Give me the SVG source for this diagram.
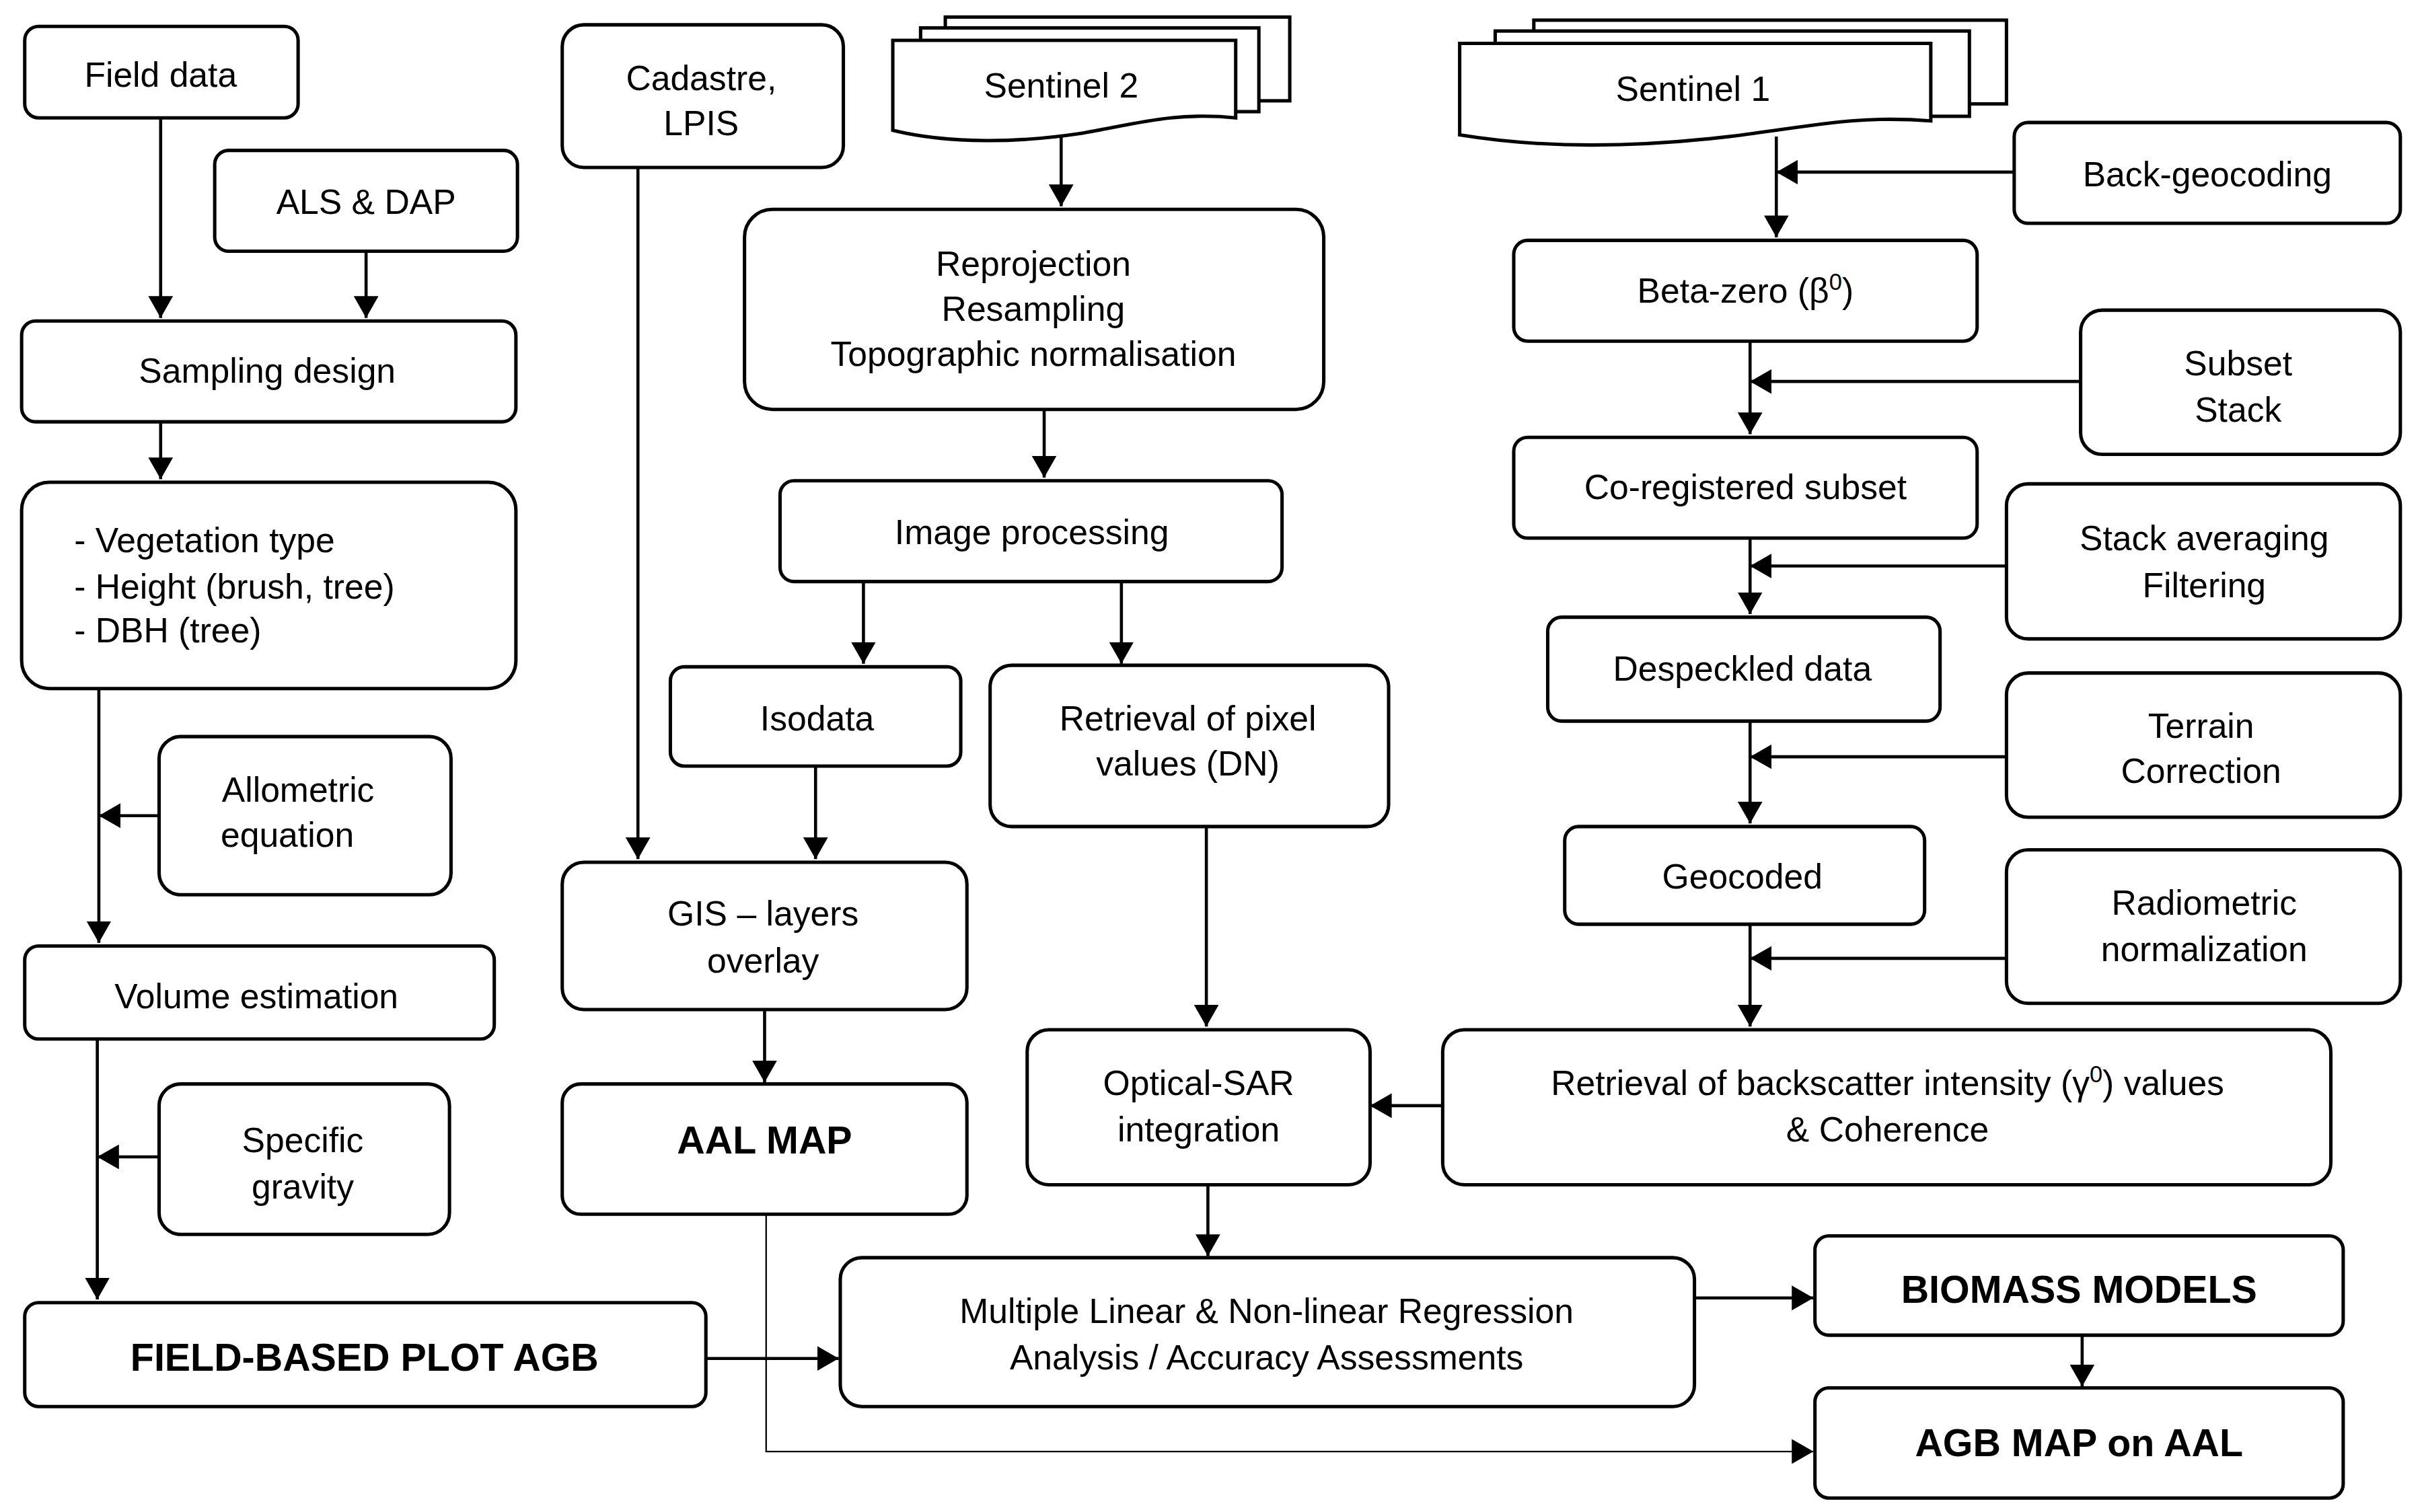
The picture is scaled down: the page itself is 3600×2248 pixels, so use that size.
<svg xmlns="http://www.w3.org/2000/svg" width="3600" height="2248" viewBox="0 0 3600 2248">
<style>
.n{fill:#fff;stroke:#000;stroke-width:2.2}
.t{font-family:"Liberation Sans",Arial,sans-serif;font-size:22.5px;text-anchor:middle;fill:#000}
.b{font-weight:bold;font-size:25px}
.l{text-anchor:start}
.c{fill:none;stroke:#000;stroke-width:2}
.th{fill:none;stroke:#000;stroke-width:1}
</style>
<defs>
<marker id="a" viewBox="0 0 14 16" refX="14" refY="8" markerWidth="14" markerHeight="16" markerUnits="userSpaceOnUse" orient="auto"><path d="M0,0 L14,8 L0,16 z" fill="#000"/></marker>
</defs>
<rect width="3600" height="2248" fill="#fff"/>
<g transform="scale(2.2959,2.3056)">
<g id="connectors">
<path class="c" marker-end="url(#a)" d="M104,76 V205"/>
<path class="c" marker-end="url(#a)" d="M237,162 V205"/>
<path class="c" marker-end="url(#a)" d="M104,272 V309"/>
<path class="c" marker-end="url(#a)" d="M64,444 V608"/>
<path class="c" marker-end="url(#a)" d="M103,526 H64"/>
<path class="c" marker-end="url(#a)" d="M63,670 V838"/>
<path class="c" marker-end="url(#a)" d="M103,746 H63"/>
<path class="c" marker-end="url(#a)" d="M457,876 H543"/>
<path class="c" marker-end="url(#a)" d="M413,108 V554"/>
<path class="c" marker-end="url(#a)" d="M687,88 V133"/>
<path class="c" marker-end="url(#a)" d="M676,264 V308"/>
<path class="c" marker-end="url(#a)" d="M559,375 V428"/>
<path class="c" marker-end="url(#a)" d="M726,375 V428"/>
<path class="c" marker-end="url(#a)" d="M528,494 V554"/>
<path class="c" marker-end="url(#a)" d="M495,651 V698"/>
<path class="c" marker-end="url(#a)" d="M781,533 V662"/>
<path class="c" marker-end="url(#a)" d="M934,713 H887"/>
<path class="c" marker-end="url(#a)" d="M782,764 V810"/>
<path class="c" marker-end="url(#a)" d="M1097,837 H1174"/>
<path class="c" marker-end="url(#a)" d="M1348,861 V894"/>
<path class="th" marker-end="url(#a)" d="M496,783 V936 H1174"/>
<path class="c" marker-end="url(#a)" d="M1150,88 V153"/>
<path class="c" marker-end="url(#a)" d="M1304,111 H1150"/>
<path class="c" marker-end="url(#a)" d="M1133,220 V280"/>
<path class="c" marker-end="url(#a)" d="M1347,246 H1133"/>
<path class="c" marker-end="url(#a)" d="M1133,347 V396"/>
<path class="c" marker-end="url(#a)" d="M1299,365 H1133"/>
<path class="c" marker-end="url(#a)" d="M1133,465 V531"/>
<path class="c" marker-end="url(#a)" d="M1299,488 H1133"/>
<path class="c" marker-end="url(#a)" d="M1133,596 V662"/>
<path class="c" marker-end="url(#a)" d="M1299,618 H1133"/>
</g>
<g id="field"><rect class="n" x="16" y="17" width="177" height="59" rx="9"/><text class="t" x="104" y="56">Field data</text></g>
<g id="als"><rect class="n" x="139" y="97" width="196" height="65" rx="9"/><text class="t" x="237" y="138">ALS &amp; DAP</text></g>
<g id="sampling"><rect class="n" x="14" y="207" width="320" height="65" rx="9"/><text class="t" x="173" y="247">Sampling design</text></g>
<g id="veg"><rect class="n" x="14" y="311" width="320" height="133" rx="18"/><text class="t l" x="48" y="356">- Vegetation type</text><text class="t l" x="48" y="386">- Height (brush, tree)</text><text class="t l" x="48" y="414">- DBH (tree)</text></g>
<g id="allo"><rect class="n" x="103" y="475" width="189" height="102" rx="14"/><text class="t" x="193" y="517">Allometric</text><text class="t" x="186" y="546">equation</text></g>
<g id="vol"><rect class="n" x="16" y="610" width="304" height="60" rx="9"/><text class="t" x="166" y="650">Volume estimation</text></g>
<g id="sg"><rect class="n" x="103" y="699" width="188" height="97" rx="14"/><text class="t" x="196" y="743">Specific</text><text class="t" x="196" y="773">gravity</text></g>
<g id="fb"><rect class="n" x="16" y="840" width="441" height="67" rx="9"/><text class="t b" x="236" y="884">FIELD-BASED  PLOT AGB</text></g>
<g id="cad"><rect class="n" x="364" y="16" width="182" height="92" rx="14"/><text class="t" x="454" y="58">Cadastre,</text><text class="t" x="454" y="87">LPIS</text></g>
<g id="s2"><rect class="n" x="612" y="11" width="223" height="54"/><rect class="n" x="596" y="18" width="219" height="54"/><path class="n" d="M578,26 H800 V76 C760,72 735,80 700,86 C660,92 615,93 578,84 Z"/><text class="t" x="687" y="63">Sentinel 2</text></g>
<g id="reproj"><rect class="n" x="482" y="135" width="375" height="129" rx="18"/><text class="t" x="669" y="178">Reprojection</text><text class="t" x="669" y="207">Resampling</text><text class="t" x="669" y="236">Topographic normalisation</text></g>
<g id="imgp"><rect class="n" x="505" y="310" width="325" height="65" rx="9"/><text class="t" x="668" y="351">Image processing</text></g>
<g id="iso"><rect class="n" x="434" y="430" width="188" height="64" rx="9"/><text class="t" x="529" y="471">Isodata</text></g>
<g id="ret"><rect class="n" x="641" y="429" width="258" height="104" rx="14"/><text class="t" x="769" y="471">Retrieval of pixel</text><text class="t" x="769" y="500">values (DN)</text></g>
<g id="gis"><rect class="n" x="364" y="556" width="262" height="95" rx="14"/><text class="t" x="494" y="597">GIS – layers</text><text class="t" x="494" y="627">overlay</text></g>
<g id="aal"><rect class="n" x="364" y="699" width="262" height="84" rx="12"/><text class="t b" x="495" y="744">AAL  MAP</text></g>
<g id="osar"><rect class="n" x="665" y="664" width="222" height="100" rx="14"/><text class="t" x="776" y="706">Optical-SAR</text><text class="t" x="776" y="736">integration</text></g>
<g id="mlr"><rect class="n" x="544" y="811" width="553" height="96" rx="14"/><text class="t" x="820" y="853">Multiple Linear &amp; Non-linear Regression</text><text class="t" x="820" y="883">Analysis / Accuracy Assessments</text></g>
<g id="bm"><rect class="n" x="1175" y="797" width="342" height="64" rx="9"/><text class="t b" x="1346" y="840">BIOMASS  MODELS</text></g>
<g id="agb"><rect class="n" x="1175" y="895" width="342" height="71" rx="9"/><text class="t b" x="1346" y="939">AGB MAP on AAL</text></g>
<g id="s1"><rect class="n" x="993" y="13" width="306" height="54"/><rect class="n" x="968" y="20" width="307" height="55"/><path class="n" d="M945,28 H1250 V78 C1200,74 1170,82 1120,88 C1060,95 1000,96 945,87 Z"/><text class="t" x="1096" y="65">Sentinel 1</text></g>
<g id="bg"><rect class="n" x="1304" y="79" width="250" height="65" rx="9"/><text class="t" x="1429" y="120">Back-geocoding</text></g>
<g id="beta"><rect class="n" x="980" y="155" width="300" height="65" rx="9"/><text class="t" x="1130" y="195">Beta-zero (β<tspan dy="-8" font-size="15">0</tspan><tspan dy="8">)</tspan></text></g>
<g id="ss"><rect class="n" x="1347" y="200" width="207" height="93" rx="14"/><text class="t" x="1449" y="242">Subset</text><text class="t" x="1449" y="272">Stack</text></g>
<g id="coreg"><rect class="n" x="980" y="282" width="300" height="65" rx="9"/><text class="t" x="1130" y="322">Co-registered subset</text></g>
<g id="saf"><rect class="n" x="1299" y="312" width="255" height="100" rx="14"/><text class="t" x="1427" y="355">Stack averaging</text><text class="t" x="1427" y="385">Filtering</text></g>
<g id="desp"><rect class="n" x="1002" y="398" width="254" height="67" rx="9"/><text class="t" x="1128" y="439">Despeckled data</text></g>
<g id="tc"><rect class="n" x="1299" y="434" width="255" height="93" rx="14"/><text class="t" x="1425" y="476">Terrain</text><text class="t" x="1425" y="505">Correction</text></g>
<g id="geo"><rect class="n" x="1013" y="533" width="233" height="63" rx="9"/><text class="t" x="1128" y="573">Geocoded</text></g>
<g id="rn"><rect class="n" x="1299" y="548" width="255" height="99" rx="14"/><text class="t" x="1427" y="590">Radiometric</text><text class="t" x="1427" y="620">normalization</text></g>
<g id="bs"><rect class="n" x="934" y="664" width="575" height="100" rx="14"/><text class="t" x="1222" y="706">Retrieval of backscatter intensity (γ<tspan dy="-8" font-size="15">0</tspan><tspan dy="8">) values</tspan></text><text class="t" x="1222" y="736">&amp; Coherence</text></g>
</g>
</svg>
